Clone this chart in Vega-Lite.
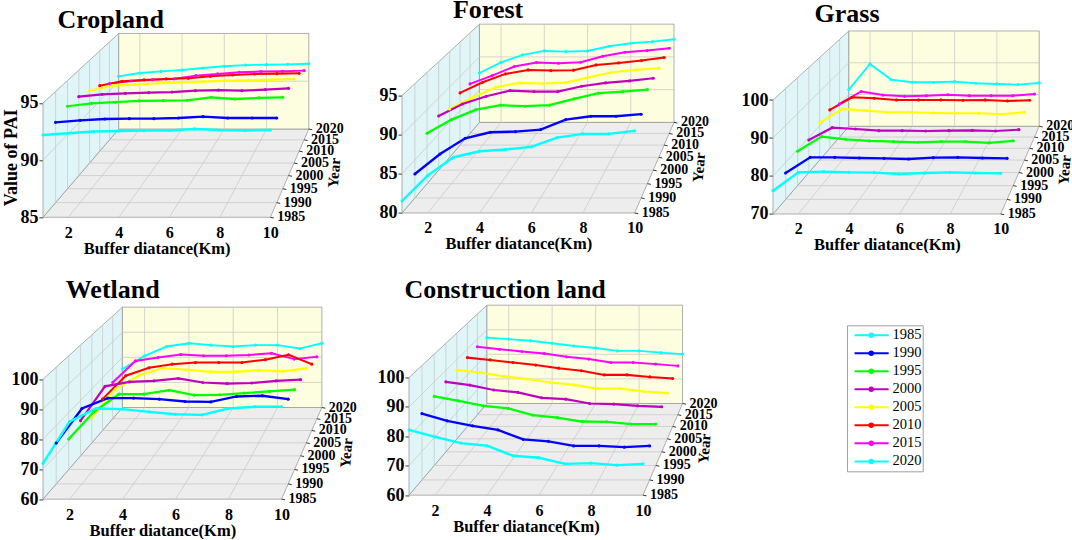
{
  "$schema": "https://vega.github.io/schema/vega-lite/v6.json",
  "background": "white",
  "padding": {"left": 2, "top": -3.7, "right": 0, "bottom": 0},
  "autosize": {"type": "pad"},
  "config": {
    "view": {"stroke": null},
    "font": "Liberation Serif",
    "axis": {"labelFont": "Liberation Serif", "labelFontWeight": "bold", "labelColor": "black", "titleFont": "Liberation Serif", "titleFontWeight": "bold", "titleColor": "black", "grid": false, "domain": false, "ticks": false},
    "axisX": {"labelFontSize": 16, "titleFontSize": 16.5, "labelPadding": 7, "titlePadding": 0},
    "axisY": {"labelFontSize": 18, "ticks": true, "tickSize": 4, "tickColor": "#333333", "labelPadding": 1},
    "title": {"font": "Liberation Serif", "fontSize": 26, "fontWeight": "bold", "anchor": "start", "frame": "group", "offset": 0, "baseline": "alphabetic", "color": "black"}
  },
  "datasets": {
    "years": [{"year": 1985}, {"year": 1990}, {"year": 1995}, {"year": 2000}, {"year": 2005}, {"year": 2010}, {"year": 2015}, {"year": 2020}],
    "box": [
      {"part": "floor", "k": 0, "dist": 1, "year": 1985, "lv": 0}, {"part": "floor", "k": 1, "dist": 10, "year": 1985, "lv": 0}, {"part": "floor", "k": 2, "dist": 10, "year": 2020, "lv": 0}, {"part": "floor", "k": 3, "dist": 1, "year": 2020, "lv": 0},
      {"part": "side", "k": 0, "dist": 1, "year": 1985, "lv": 0}, {"part": "side", "k": 1, "dist": 1, "year": 1985, "lv": 1}, {"part": "side", "k": 2, "dist": 1, "year": 2020, "lv": 1}, {"part": "side", "k": 3, "dist": 1, "year": 2020, "lv": 0},
      {"part": "back", "k": 0, "dist": 1, "year": 2020, "lv": 0}, {"part": "back", "k": 1, "dist": 10, "year": 2020, "lv": 0}, {"part": "back", "k": 2, "dist": 10, "year": 2020, "lv": 1}, {"part": "back", "k": 3, "dist": 1, "year": 2020, "lv": 1}
    ],
    "grid": [
      {"panel": "all", "dist": 2, "year": 1985, "lv": 0, "dist2": 2, "year2": 2020, "lv2": 0},
      {"panel": "all", "dist": 4, "year": 1985, "lv": 0, "dist2": 4, "year2": 2020, "lv2": 0},
      {"panel": "all", "dist": 6, "year": 1985, "lv": 0, "dist2": 6, "year2": 2020, "lv2": 0},
      {"panel": "all", "dist": 8, "year": 1985, "lv": 0, "dist2": 8, "year2": 2020, "lv2": 0},
      {"panel": "all", "dist": 1, "year": 1990, "lv": 0, "dist2": 10, "year2": 1990, "lv2": 0},
      {"panel": "all", "dist": 1, "year": 1995, "lv": 0, "dist2": 10, "year2": 1995, "lv2": 0},
      {"panel": "all", "dist": 1, "year": 2000, "lv": 0, "dist2": 10, "year2": 2000, "lv2": 0},
      {"panel": "all", "dist": 1, "year": 2005, "lv": 0, "dist2": 10, "year2": 2005, "lv2": 0},
      {"panel": "all", "dist": 1, "year": 2010, "lv": 0, "dist2": 10, "year2": 2010, "lv2": 0},
      {"panel": "all", "dist": 1, "year": 2015, "lv": 0, "dist2": 10, "year2": 2015, "lv2": 0},
      {"panel": "all", "dist": 1, "year": 1990, "lv": 0, "dist2": 1, "year2": 1990, "lv2": 1},
      {"panel": "all", "dist": 1, "year": 1995, "lv": 0, "dist2": 1, "year2": 1995, "lv2": 1},
      {"panel": "all", "dist": 1, "year": 2000, "lv": 0, "dist2": 1, "year2": 2000, "lv2": 1},
      {"panel": "all", "dist": 1, "year": 2005, "lv": 0, "dist2": 1, "year2": 2005, "lv2": 1},
      {"panel": "all", "dist": 1, "year": 2010, "lv": 0, "dist2": 1, "year2": 2010, "lv2": 1},
      {"panel": "all", "dist": 1, "year": 2015, "lv": 0, "dist2": 1, "year2": 2015, "lv2": 1},
      {"panel": "all", "dist": 2, "year": 2020, "lv": 0, "dist2": 2, "year2": 2020, "lv2": 1},
      {"panel": "all", "dist": 4, "year": 2020, "lv": 0, "dist2": 4, "year2": 2020, "lv2": 1},
      {"panel": "all", "dist": 6, "year": 2020, "lv": 0, "dist2": 6, "year2": 2020, "lv2": 1},
      {"panel": "all", "dist": 8, "year": 2020, "lv": 0, "dist2": 8, "year2": 2020, "lv2": 1},
      {"panel": "Cropland", "dist": 1, "year": 1985, "lv": 0.5, "dist2": 1, "year2": 2020, "lv2": 0.5},
      {"panel": "Cropland", "dist": 1, "year": 2020, "lv": 0.5, "dist2": 10, "year2": 2020, "lv2": 0.5},
      {"panel": "Forest", "dist": 1, "year": 1985, "lv": 0.3333, "dist2": 1, "year2": 2020, "lv2": 0.3333},
      {"panel": "Forest", "dist": 1, "year": 2020, "lv": 0.3333, "dist2": 10, "year2": 2020, "lv2": 0.3333},
      {"panel": "Forest", "dist": 1, "year": 1985, "lv": 0.6667, "dist2": 1, "year2": 2020, "lv2": 0.6667},
      {"panel": "Forest", "dist": 1, "year": 2020, "lv": 0.6667, "dist2": 10, "year2": 2020, "lv2": 0.6667},
      {"panel": "Grass", "dist": 1, "year": 1985, "lv": 0.3333, "dist2": 1, "year2": 2020, "lv2": 0.3333},
      {"panel": "Grass", "dist": 1, "year": 2020, "lv": 0.3333, "dist2": 10, "year2": 2020, "lv2": 0.3333},
      {"panel": "Grass", "dist": 1, "year": 1985, "lv": 0.6667, "dist2": 1, "year2": 2020, "lv2": 0.6667},
      {"panel": "Grass", "dist": 1, "year": 2020, "lv": 0.6667, "dist2": 10, "year2": 2020, "lv2": 0.6667},
      {"panel": "Wetland", "dist": 1, "year": 1985, "lv": 0.25, "dist2": 1, "year2": 2020, "lv2": 0.25},
      {"panel": "Wetland", "dist": 1, "year": 2020, "lv": 0.25, "dist2": 10, "year2": 2020, "lv2": 0.25},
      {"panel": "Wetland", "dist": 1, "year": 1985, "lv": 0.5, "dist2": 1, "year2": 2020, "lv2": 0.5},
      {"panel": "Wetland", "dist": 1, "year": 2020, "lv": 0.5, "dist2": 10, "year2": 2020, "lv2": 0.5},
      {"panel": "Wetland", "dist": 1, "year": 1985, "lv": 0.75, "dist2": 1, "year2": 2020, "lv2": 0.75},
      {"panel": "Wetland", "dist": 1, "year": 2020, "lv": 0.75, "dist2": 10, "year2": 2020, "lv2": 0.75},
      {"panel": "Construction land", "dist": 1, "year": 1985, "lv": 0.25, "dist2": 1, "year2": 2020, "lv2": 0.25},
      {"panel": "Construction land", "dist": 1, "year": 2020, "lv": 0.25, "dist2": 10, "year2": 2020, "lv2": 0.25},
      {"panel": "Construction land", "dist": 1, "year": 1985, "lv": 0.5, "dist2": 1, "year2": 2020, "lv2": 0.5},
      {"panel": "Construction land", "dist": 1, "year": 2020, "lv": 0.5, "dist2": 10, "year2": 2020, "lv2": 0.5},
      {"panel": "Construction land", "dist": 1, "year": 1985, "lv": 0.75, "dist2": 1, "year2": 2020, "lv2": 0.75},
      {"panel": "Construction land", "dist": 1, "year": 2020, "lv": 0.75, "dist2": 10, "year2": 2020, "lv2": 0.75}
    ],
    "pai": [
      {"panel":"Cropland","year":2020,"dist":1,"pai":90.51},{"panel":"Cropland","year":2020,"dist":2,"pai":90.86},{"panel":"Cropland","year":2020,"dist":3,"pai":91.03},{"panel":"Cropland","year":2020,"dist":4,"pai":91.17},{"panel":"Cropland","year":2020,"dist":5,"pai":91.38},{"panel":"Cropland","year":2020,"dist":6,"pai":91.56},{"panel":"Cropland","year":2020,"dist":7,"pai":91.69},{"panel":"Cropland","year":2020,"dist":8,"pai":91.73},{"panel":"Cropland","year":2020,"dist":9,"pai":91.76},{"panel":"Cropland","year":2020,"dist":10,"pai":91.83},
      {"panel":"Cropland","year":2015,"dist":1,"pai":90.74},{"panel":"Cropland","year":2015,"dist":2,"pai":91.01},{"panel":"Cropland","year":2015,"dist":3,"pai":91.15},{"panel":"Cropland","year":2015,"dist":4,"pai":91.23},{"panel":"Cropland","year":2015,"dist":5,"pai":91.56},{"panel":"Cropland","year":2015,"dist":6,"pai":91.73},{"panel":"Cropland","year":2015,"dist":7,"pai":91.9},{"panel":"Cropland","year":2015,"dist":8,"pai":91.97},{"panel":"Cropland","year":2015,"dist":9,"pai":92.0},{"panel":"Cropland","year":2015,"dist":10,"pai":92.07},
      {"panel":"Cropland","year":2010,"dist":1,"pai":91.53},{"panel":"Cropland","year":2010,"dist":2,"pai":91.96},{"panel":"Cropland","year":2010,"dist":3,"pai":92.1},{"panel":"Cropland","year":2010,"dist":4,"pai":92.2},{"panel":"Cropland","year":2010,"dist":5,"pai":92.26},{"panel":"Cropland","year":2010,"dist":6,"pai":92.46},{"panel":"Cropland","year":2010,"dist":7,"pai":92.59},{"panel":"Cropland","year":2010,"dist":8,"pai":92.69},{"panel":"Cropland","year":2010,"dist":9,"pai":92.73},{"panel":"Cropland","year":2010,"dist":10,"pai":92.76},
      {"panel":"Cropland","year":2005,"dist":1,"pai":92.04},{"panel":"Cropland","year":2005,"dist":2,"pai":92.53},{"panel":"Cropland","year":2005,"dist":3,"pai":92.63},{"panel":"Cropland","year":2005,"dist":4,"pai":92.76},{"panel":"Cropland","year":2005,"dist":5,"pai":92.82},{"panel":"Cropland","year":2005,"dist":6,"pai":92.92},{"panel":"Cropland","year":2005,"dist":7,"pai":93.02},{"panel":"Cropland","year":2005,"dist":8,"pai":93.05},{"panel":"Cropland","year":2005,"dist":9,"pai":93.11},{"panel":"Cropland","year":2005,"dist":10,"pai":93.18},
      {"panel":"Cropland","year":2000,"dist":1,"pai":92.48},{"panel":"Cropland","year":2000,"dist":2,"pai":92.7},{"panel":"Cropland","year":2000,"dist":3,"pai":92.8},{"panel":"Cropland","year":2000,"dist":4,"pai":92.86},{"panel":"Cropland","year":2000,"dist":5,"pai":92.92},{"panel":"Cropland","year":2000,"dist":6,"pai":93.05},{"panel":"Cropland","year":2000,"dist":7,"pai":93.11},{"panel":"Cropland","year":2000,"dist":8,"pai":93.05},{"panel":"Cropland","year":2000,"dist":9,"pai":93.15},{"panel":"Cropland","year":2000,"dist":10,"pai":93.27},
      {"panel":"Cropland","year":1995,"dist":1,"pai":92.62},{"panel":"Cropland","year":1995,"dist":2,"pai":92.89},{"panel":"Cropland","year":1995,"dist":3,"pai":92.99},{"panel":"Cropland","year":1995,"dist":4,"pai":93.11},{"panel":"Cropland","year":1995,"dist":5,"pai":93.14},{"panel":"Cropland","year":1995,"dist":6,"pai":93.17},{"panel":"Cropland","year":1995,"dist":7,"pai":93.45},{"panel":"Cropland","year":1995,"dist":8,"pai":93.29},{"panel":"Cropland","year":1995,"dist":9,"pai":93.39},{"panel":"Cropland","year":1995,"dist":10,"pai":93.45},
      {"panel":"Cropland","year":1990,"dist":1,"pai":92.22},{"panel":"Cropland","year":1990,"dist":2,"pai":92.4},{"panel":"Cropland","year":1990,"dist":3,"pai":92.52},{"panel":"Cropland","year":1990,"dist":4,"pai":92.55},{"panel":"Cropland","year":1990,"dist":5,"pai":92.55},{"panel":"Cropland","year":1990,"dist":6,"pai":92.61},{"panel":"Cropland","year":1990,"dist":7,"pai":92.73},{"panel":"Cropland","year":1990,"dist":8,"pai":92.61},{"panel":"Cropland","year":1990,"dist":9,"pai":92.61},{"panel":"Cropland","year":1990,"dist":10,"pai":92.61},
      {"panel":"Cropland","year":1985,"dist":1,"pai":92.2},{"panel":"Cropland","year":1985,"dist":2,"pai":92.35},{"panel":"Cropland","year":1985,"dist":3,"pai":92.5},{"panel":"Cropland","year":1985,"dist":4,"pai":92.55},{"panel":"Cropland","year":1985,"dist":5,"pai":92.58},{"panel":"Cropland","year":1985,"dist":6,"pai":92.6},{"panel":"Cropland","year":1985,"dist":7,"pai":92.73},{"panel":"Cropland","year":1985,"dist":8,"pai":92.64},{"panel":"Cropland","year":1985,"dist":9,"pai":92.6},{"panel":"Cropland","year":1985,"dist":10,"pai":92.64},

      {"panel":"Forest","year":2020,"dist":1,"pai":87.54},{"panel":"Forest","year":2020,"dist":2,"pai":89.17},{"panel":"Forest","year":2020,"dist":3,"pai":90.3},{"panel":"Forest","year":2020,"dist":4,"pai":90.91},{"panel":"Forest","year":2020,"dist":5,"pai":90.81},{"panel":"Forest","year":2020,"dist":6,"pai":90.91},{"panel":"Forest","year":2020,"dist":7,"pai":91.62},{"panel":"Forest","year":2020,"dist":8,"pai":92.08},{"panel":"Forest","year":2020,"dist":9,"pai":92.33},{"panel":"Forest","year":2020,"dist":10,"pai":92.69},
      {"panel":"Forest","year":2015,"dist":1,"pai":87.39},{"panel":"Forest","year":2015,"dist":2,"pai":88.63},{"panel":"Forest","year":2015,"dist":3,"pai":89.98},{"panel":"Forest","year":2015,"dist":4,"pai":90.57},{"panel":"Forest","year":2015,"dist":5,"pai":90.47},{"panel":"Forest","year":2015,"dist":6,"pai":90.62},{"panel":"Forest","year":2015,"dist":7,"pai":91.52},{"panel":"Forest","year":2015,"dist":8,"pai":92.11},{"panel":"Forest","year":2015,"dist":9,"pai":92.36},{"panel":"Forest","year":2015,"dist":10,"pai":92.71},
      {"panel":"Forest","year":2010,"dist":1,"pai":87.59},{"panel":"Forest","year":2010,"dist":2,"pai":89.14},{"panel":"Forest","year":2010,"dist":3,"pai":90.36},{"panel":"Forest","year":2010,"dist":4,"pai":90.94},{"panel":"Forest","year":2010,"dist":5,"pai":90.85},{"panel":"Forest","year":2010,"dist":6,"pai":90.9},{"panel":"Forest","year":2010,"dist":7,"pai":91.67},{"panel":"Forest","year":2010,"dist":8,"pai":91.96},{"panel":"Forest","year":2010,"dist":9,"pai":92.3},{"panel":"Forest","year":2010,"dist":10,"pai":92.74},
      {"panel":"Forest","year":2005,"dist":1,"pai":86.87},{"panel":"Forest","year":2005,"dist":2,"pai":88.53},{"panel":"Forest","year":2005,"dist":3,"pai":89.95},{"panel":"Forest","year":2005,"dist":4,"pai":90.56},{"panel":"Forest","year":2005,"dist":5,"pai":90.47},{"panel":"Forest","year":2005,"dist":6,"pai":90.61},{"panel":"Forest","year":2005,"dist":7,"pai":91.37},{"panel":"Forest","year":2005,"dist":8,"pai":92.08},{"panel":"Forest","year":2005,"dist":9,"pai":92.41},{"panel":"Forest","year":2005,"dist":10,"pai":92.65},
      {"panel":"Forest","year":2000,"dist":1,"pai":87.5},{"panel":"Forest","year":2000,"dist":2,"pai":89.16},{"panel":"Forest","year":2000,"dist":3,"pai":90.22},{"panel":"Forest","year":2000,"dist":4,"pai":91.01},{"panel":"Forest","year":2000,"dist":5,"pai":90.87},{"panel":"Forest","year":2000,"dist":6,"pai":90.87},{"panel":"Forest","year":2000,"dist":7,"pai":91.61},{"panel":"Forest","year":2000,"dist":8,"pai":92.07},{"panel":"Forest","year":2000,"dist":9,"pai":92.35},{"panel":"Forest","year":2000,"dist":10,"pai":92.72},
      {"panel":"Forest","year":1995,"dist":1,"pai":86.8},{"panel":"Forest","year":1995,"dist":2,"pai":88.64},{"panel":"Forest","year":1995,"dist":3,"pai":89.99},{"panel":"Forest","year":1995,"dist":4,"pai":90.58},{"panel":"Forest","year":1995,"dist":5,"pai":90.44},{"panel":"Forest","year":1995,"dist":6,"pai":90.58},{"panel":"Forest","year":1995,"dist":7,"pai":91.43},{"panel":"Forest","year":1995,"dist":8,"pai":92.2},{"panel":"Forest","year":1995,"dist":9,"pai":92.42},{"panel":"Forest","year":1995,"dist":10,"pai":92.69},
      {"panel":"Forest","year":1990,"dist":1,"pai":83.14},{"panel":"Forest","year":1990,"dist":2,"pai":85.77},{"panel":"Forest","year":1990,"dist":3,"pai":87.83},{"panel":"Forest","year":1990,"dist":4,"pai":88.62},{"panel":"Forest","year":1990,"dist":5,"pai":88.71},{"panel":"Forest","year":1990,"dist":6,"pai":88.97},{"panel":"Forest","year":1990,"dist":7,"pai":90.28},{"panel":"Forest","year":1990,"dist":8,"pai":90.72},{"panel":"Forest","year":1990,"dist":9,"pai":90.72},{"panel":"Forest","year":1990,"dist":10,"pai":90.99},
      {"panel":"Forest","year":1985,"dist":1,"pai":81.53},{"panel":"Forest","year":1985,"dist":2,"pai":84.81},{"panel":"Forest","year":1985,"dist":3,"pai":87.12},{"panel":"Forest","year":1985,"dist":4,"pai":87.88},{"panel":"Forest","year":1985,"dist":5,"pai":88.1},{"panel":"Forest","year":1985,"dist":6,"pai":88.44},{"panel":"Forest","year":1985,"dist":7,"pai":89.63},{"panel":"Forest","year":1985,"dist":8,"pai":90.1},{"panel":"Forest","year":1985,"dist":9,"pai":90.1},{"panel":"Forest","year":1985,"dist":10,"pai":90.48},

      {"panel":"Grass","year":2020,"dist":1,"pai":81.54},{"panel":"Grass","year":2020,"dist":2,"pai":89.62},{"panel":"Grass","year":2020,"dist":3,"pai":84.69},{"panel":"Grass","year":2020,"dist":4,"pai":83.85},{"panel":"Grass","year":2020,"dist":5,"pai":83.85},{"panel":"Grass","year":2020,"dist":6,"pai":84.06},{"panel":"Grass","year":2020,"dist":7,"pai":83.54},{"panel":"Grass","year":2020,"dist":8,"pai":83.33},{"panel":"Grass","year":2020,"dist":9,"pai":83.12},{"panel":"Grass","year":2020,"dist":10,"pai":83.64},
      {"panel":"Grass","year":2015,"dist":1,"pai":80.2},{"panel":"Grass","year":2015,"dist":2,"pai":84.0},{"panel":"Grass","year":2015,"dist":3,"pai":82.9},{"panel":"Grass","year":2015,"dist":4,"pai":82.5},{"panel":"Grass","year":2015,"dist":5,"pai":82.7},{"panel":"Grass","year":2015,"dist":6,"pai":83.0},{"panel":"Grass","year":2015,"dist":7,"pai":82.7},{"panel":"Grass","year":2015,"dist":8,"pai":82.7},{"panel":"Grass","year":2015,"dist":9,"pai":82.7},{"panel":"Grass","year":2015,"dist":10,"pai":83.2},
      {"panel":"Grass","year":2010,"dist":1,"pai":81.5},{"panel":"Grass","year":2010,"dist":2,"pai":85.3},{"panel":"Grass","year":2010,"dist":3,"pai":85.0},{"panel":"Grass","year":2010,"dist":4,"pai":84.5},{"panel":"Grass","year":2010,"dist":5,"pai":84.5},{"panel":"Grass","year":2010,"dist":6,"pai":84.5},{"panel":"Grass","year":2010,"dist":7,"pai":84.4},{"panel":"Grass","year":2010,"dist":8,"pai":84.5},{"panel":"Grass","year":2010,"dist":9,"pai":84.2},{"panel":"Grass","year":2010,"dist":10,"pai":84.4},
      {"panel":"Grass","year":2005,"dist":1,"pai":80.88},{"panel":"Grass","year":2005,"dist":2,"pai":84.98},{"panel":"Grass","year":2005,"dist":3,"pai":84.49},{"panel":"Grass","year":2005,"dist":4,"pai":84.0},{"panel":"Grass","year":2005,"dist":5,"pai":84.0},{"panel":"Grass","year":2005,"dist":6,"pai":83.8},{"panel":"Grass","year":2005,"dist":7,"pai":83.71},{"panel":"Grass","year":2005,"dist":8,"pai":83.71},{"panel":"Grass","year":2005,"dist":9,"pai":83.41},{"panel":"Grass","year":2005,"dist":10,"pai":84.0},
      {"panel":"Grass","year":2000,"dist":1,"pai":79.28},{"panel":"Grass","year":2000,"dist":2,"pai":82.79},{"panel":"Grass","year":2000,"dist":3,"pai":82.41},{"panel":"Grass","year":2000,"dist":4,"pai":81.94},{"panel":"Grass","year":2000,"dist":5,"pai":81.94},{"panel":"Grass","year":2000,"dist":6,"pai":81.84},{"panel":"Grass","year":2000,"dist":7,"pai":81.94},{"panel":"Grass","year":2000,"dist":8,"pai":82.03},{"panel":"Grass","year":2000,"dist":9,"pai":81.84},{"panel":"Grass","year":2000,"dist":10,"pai":82.22},
      {"panel":"Grass","year":1995,"dist":1,"pai":79.55},{"panel":"Grass","year":1995,"dist":2,"pai":83.62},{"panel":"Grass","year":1995,"dist":3,"pai":82.88},{"panel":"Grass","year":1995,"dist":4,"pai":82.42},{"panel":"Grass","year":1995,"dist":5,"pai":82.23},{"panel":"Grass","year":1995,"dist":6,"pai":82.05},{"panel":"Grass","year":1995,"dist":7,"pai":82.23},{"panel":"Grass","year":1995,"dist":8,"pai":82.23},{"panel":"Grass","year":1995,"dist":9,"pai":81.86},{"panel":"Grass","year":1995,"dist":10,"pai":82.42},
      {"panel":"Grass","year":1990,"dist":1,"pai":77.15},{"panel":"Grass","year":1990,"dist":2,"pai":81.39},{"panel":"Grass","year":1990,"dist":3,"pai":81.39},{"panel":"Grass","year":1990,"dist":4,"pai":81.21},{"panel":"Grass","year":1990,"dist":5,"pai":81.12},{"panel":"Grass","year":1990,"dist":6,"pai":80.94},{"panel":"Grass","year":1990,"dist":7,"pai":81.3},{"panel":"Grass","year":1990,"dist":8,"pai":81.39},{"panel":"Grass","year":1990,"dist":9,"pai":81.21},{"panel":"Grass","year":1990,"dist":10,"pai":81.12},
      {"panel":"Grass","year":1985,"dist":1,"pai":76.14},{"panel":"Grass","year":1985,"dist":2,"pai":80.96},{"panel":"Grass","year":1985,"dist":3,"pai":81.14},{"panel":"Grass","year":1985,"dist":4,"pai":80.96},{"panel":"Grass","year":1985,"dist":5,"pai":80.88},{"panel":"Grass","year":1985,"dist":6,"pai":80.53},{"panel":"Grass","year":1985,"dist":7,"pai":80.79},{"panel":"Grass","year":1985,"dist":8,"pai":80.96},{"panel":"Grass","year":1985,"dist":9,"pai":80.79},{"panel":"Grass","year":1985,"dist":10,"pai":80.7},

      {"panel":"Wetland","year":2020,"dist":1,"pai":75.3},{"panel":"Wetland","year":2020,"dist":2,"pai":80.6},{"panel":"Wetland","year":2020,"dist":3,"pai":84.3},{"panel":"Wetland","year":2020,"dist":4,"pai":85.6},{"panel":"Wetland","year":2020,"dist":5,"pai":84.85},{"panel":"Wetland","year":2020,"dist":6,"pai":84.3},{"panel":"Wetland","year":2020,"dist":7,"pai":84.85},{"panel":"Wetland","year":2020,"dist":8,"pai":84.85},{"panel":"Wetland","year":2020,"dist":9,"pai":83.5},{"panel":"Wetland","year":2020,"dist":10,"pai":85.6},
      {"panel":"Wetland","year":2015,"dist":1,"pai":74.1},{"panel":"Wetland","year":2015,"dist":2,"pai":82.5},{"panel":"Wetland","year":2015,"dist":3,"pai":83.8},{"panel":"Wetland","year":2015,"dist":4,"pai":85.0},{"panel":"Wetland","year":2015,"dist":5,"pai":84.5},{"panel":"Wetland","year":2015,"dist":6,"pai":84.5},{"panel":"Wetland","year":2015,"dist":7,"pai":84.8},{"panel":"Wetland","year":2015,"dist":8,"pai":85.5},{"panel":"Wetland","year":2015,"dist":9,"pai":83.2},{"panel":"Wetland","year":2015,"dist":10,"pai":84.1},
      {"panel":"Wetland","year":2010,"dist":1,"pai":71.9},{"panel":"Wetland","year":2010,"dist":2,"pai":80.8},{"panel":"Wetland","year":2010,"dist":3,"pai":83.8},{"panel":"Wetland","year":2010,"dist":4,"pai":85.2},{"panel":"Wetland","year":2010,"dist":5,"pai":85.8},{"panel":"Wetland","year":2010,"dist":6,"pai":85.8},{"panel":"Wetland","year":2010,"dist":7,"pai":85.8},{"panel":"Wetland","year":2010,"dist":8,"pai":86.9},{"panel":"Wetland","year":2010,"dist":9,"pai":88.75},{"panel":"Wetland","year":2010,"dist":10,"pai":85.2},
      {"panel":"Wetland","year":2005,"dist":1,"pai":69.4},{"panel":"Wetland","year":2005,"dist":2,"pai":79.9},{"panel":"Wetland","year":2005,"dist":3,"pai":85.1},{"panel":"Wetland","year":2005,"dist":4,"pai":87.7},{"panel":"Wetland","year":2005,"dist":5,"pai":87.1},{"panel":"Wetland","year":2005,"dist":6,"pai":86.3},{"panel":"Wetland","year":2005,"dist":7,"pai":86.3},{"panel":"Wetland","year":2005,"dist":8,"pai":86.9},{"panel":"Wetland","year":2005,"dist":9,"pai":86.5},{"panel":"Wetland","year":2005,"dist":10,"pai":87.6},
      {"panel":"Wetland","year":2000,"dist":1,"pai":72.7},{"panel":"Wetland","year":2000,"dist":2,"pai":85.1},{"panel":"Wetland","year":2000,"dist":3,"pai":86.7},{"panel":"Wetland","year":2000,"dist":4,"pai":87.1},{"panel":"Wetland","year":2000,"dist":5,"pai":87.95},{"panel":"Wetland","year":2000,"dist":6,"pai":86.5},{"panel":"Wetland","year":2000,"dist":7,"pai":86.1},{"panel":"Wetland","year":2000,"dist":8,"pai":86.3},{"panel":"Wetland","year":2000,"dist":9,"pai":87.1},{"panel":"Wetland","year":2000,"dist":10,"pai":87.5},
      {"panel":"Wetland","year":1995,"dist":1,"pai":70.7},{"panel":"Wetland","year":1995,"dist":2,"pai":80.3},{"panel":"Wetland","year":1995,"dist":3,"pai":86.5},{"panel":"Wetland","year":1995,"dist":4,"pai":86.5},{"panel":"Wetland","year":1995,"dist":5,"pai":87.9},{"panel":"Wetland","year":1995,"dist":6,"pai":86.2},{"panel":"Wetland","year":1995,"dist":7,"pai":86.3},{"panel":"Wetland","year":1995,"dist":8,"pai":86.9},{"panel":"Wetland","year":1995,"dist":9,"pai":87.5},{"panel":"Wetland","year":1995,"dist":10,"pai":88.1},
      {"panel":"Wetland","year":1990,"dist":1,"pai":74.0},{"panel":"Wetland","year":1990,"dist":2,"pai":85.85},{"panel":"Wetland","year":1990,"dist":3,"pai":89.4},{"panel":"Wetland","year":1990,"dist":4,"pai":89.4},{"panel":"Wetland","year":1990,"dist":5,"pai":89.05},{"panel":"Wetland","year":1990,"dist":6,"pai":88.25},{"panel":"Wetland","year":1990,"dist":7,"pai":88.1},{"panel":"Wetland","year":1990,"dist":8,"pai":89.96},{"panel":"Wetland","year":1990,"dist":9,"pai":90.2},{"panel":"Wetland","year":1990,"dist":10,"pai":89.05},
      {"panel":"Wetland","year":1985,"dist":1,"pai":71.9},{"panel":"Wetland","year":1985,"dist":2,"pai":85.8},{"panel":"Wetland","year":1985,"dist":3,"pai":90.2},{"panel":"Wetland","year":1985,"dist":4,"pai":90.0},{"panel":"Wetland","year":1985,"dist":5,"pai":89.1},{"panel":"Wetland","year":1985,"dist":6,"pai":88.3},{"panel":"Wetland","year":1985,"dist":7,"pai":88.1},{"panel":"Wetland","year":1985,"dist":8,"pai":90.2},{"panel":"Wetland","year":1985,"dist":9,"pai":90.8},{"panel":"Wetland","year":1985,"dist":10,"pai":90.8},

      {"panel":"Construction land","year":2020,"dist":1,"pai":86.8},{"panel":"Construction land","year":2020,"dist":2,"pai":86.2},{"panel":"Construction land","year":2020,"dist":3,"pai":85.5},{"panel":"Construction land","year":2020,"dist":4,"pai":84.5},{"panel":"Construction land","year":2020,"dist":5,"pai":83.4},{"panel":"Construction land","year":2020,"dist":6,"pai":82.6},{"panel":"Construction land","year":2020,"dist":7,"pai":81.4},{"panel":"Construction land","year":2020,"dist":8,"pai":81.4},{"panel":"Construction land","year":2020,"dist":9,"pai":80.7},{"panel":"Construction land","year":2020,"dist":10,"pai":80.1},
      {"panel":"Construction land","year":2015,"dist":1,"pai":87.0},{"panel":"Construction land","year":2015,"dist":2,"pai":86.0},{"panel":"Construction land","year":2015,"dist":3,"pai":85.1},{"panel":"Construction land","year":2015,"dist":4,"pai":84.3},{"panel":"Construction land","year":2015,"dist":5,"pai":83.0},{"panel":"Construction land","year":2015,"dist":6,"pai":82.1},{"panel":"Construction land","year":2015,"dist":7,"pai":80.75},{"panel":"Construction land","year":2015,"dist":8,"pai":80.75},{"panel":"Construction land","year":2015,"dist":9,"pai":80.1},{"panel":"Construction land","year":2015,"dist":10,"pai":79.4},
      {"panel":"Construction land","year":2010,"dist":1,"pai":86.7},{"panel":"Construction land","year":2010,"dist":2,"pai":85.8},{"panel":"Construction land","year":2010,"dist":3,"pai":84.8},{"panel":"Construction land","year":2010,"dist":4,"pai":83.8},{"panel":"Construction land","year":2010,"dist":5,"pai":82.6},{"panel":"Construction land","year":2010,"dist":6,"pai":81.6},{"panel":"Construction land","year":2010,"dist":7,"pai":80.0},{"panel":"Construction land","year":2010,"dist":8,"pai":80.0},{"panel":"Construction land","year":2010,"dist":9,"pai":79.2},{"panel":"Construction land","year":2010,"dist":10,"pai":78.6},
      {"panel":"Construction land","year":2005,"dist":1,"pai":86.0},{"panel":"Construction land","year":2005,"dist":2,"pai":85.1},{"panel":"Construction land","year":2005,"dist":3,"pai":83.6},{"panel":"Construction land","year":2005,"dist":4,"pai":82.6},{"panel":"Construction land","year":2005,"dist":5,"pai":81.3},{"panel":"Construction land","year":2005,"dist":6,"pai":80.4},{"panel":"Construction land","year":2005,"dist":7,"pai":79.0},{"panel":"Construction land","year":2005,"dist":8,"pai":79.0},{"panel":"Construction land","year":2005,"dist":9,"pai":77.9},{"panel":"Construction land","year":2005,"dist":10,"pai":77.3},
      {"panel":"Construction land","year":2000,"dist":1,"pai":85.8},{"panel":"Construction land","year":2000,"dist":2,"pai":84.6},{"panel":"Construction land","year":2000,"dist":3,"pai":82.8},{"panel":"Construction land","year":2000,"dist":4,"pai":81.9},{"panel":"Construction land","year":2000,"dist":5,"pai":79.9},{"panel":"Construction land","year":2000,"dist":6,"pai":79.4},{"panel":"Construction land","year":2000,"dist":7,"pai":77.8},{"panel":"Construction land","year":2000,"dist":8,"pai":77.6},{"panel":"Construction land","year":2000,"dist":9,"pai":76.95},{"panel":"Construction land","year":2000,"dist":10,"pai":76.6},
      {"panel":"Construction land","year":1995,"dist":1,"pai":84.8},{"panel":"Construction land","year":1995,"dist":2,"pai":83.2},{"panel":"Construction land","year":1995,"dist":3,"pai":81.4},{"panel":"Construction land","year":1995,"dist":4,"pai":80.5},{"panel":"Construction land","year":1995,"dist":5,"pai":78.1},{"panel":"Construction land","year":1995,"dist":6,"pai":77.2},{"panel":"Construction land","year":1995,"dist":7,"pai":75.8},{"panel":"Construction land","year":1995,"dist":8,"pai":75.7},{"panel":"Construction land","year":1995,"dist":9,"pai":74.9},{"panel":"Construction land","year":1995,"dist":10,"pai":74.9},
      {"panel":"Construction land","year":1990,"dist":1,"pai":83.2},{"panel":"Construction land","year":1990,"dist":2,"pai":80.65},{"panel":"Construction land","year":1990,"dist":3,"pai":78.9},{"panel":"Construction land","year":1990,"dist":4,"pai":77.5},{"panel":"Construction land","year":1990,"dist":5,"pai":74.2},{"panel":"Construction land","year":1990,"dist":6,"pai":73.5},{"panel":"Construction land","year":1990,"dist":7,"pai":71.9},{"panel":"Construction land","year":1990,"dist":8,"pai":71.9},{"panel":"Construction land","year":1990,"dist":9,"pai":71.45},{"panel":"Construction land","year":1990,"dist":10,"pai":71.9},
      {"panel":"Construction land","year":1985,"dist":1,"pai":82.2},{"panel":"Construction land","year":1985,"dist":2,"pai":79.8},{"panel":"Construction land","year":1985,"dist":3,"pai":77.7},{"panel":"Construction land","year":1985,"dist":4,"pai":76.8},{"panel":"Construction land","year":1985,"dist":5,"pai":73.4},{"panel":"Construction land","year":1985,"dist":6,"pai":72.7},{"panel":"Construction land","year":1985,"dist":7,"pai":70.65},{"panel":"Construction land","year":1985,"dist":8,"pai":70.9},{"panel":"Construction land","year":1985,"dist":9,"pai":70.2},{"panel":"Construction land","year":1985,"dist":10,"pai":70.65}
    ]
  },
  "spacing": 275,
  "bounds": "flush",
  "resolve": {"scale": {"x": "independent", "y": "independent"}},
  "vconcat": [
    {
      "spacing": 40,
      "bounds": "flush",
      "center": true,
      "resolve": {"scale": {"x": "independent", "y": "independent"}},
      "hconcat": [
        {
          "width": 318.5, "height": 195,
          "title": {"text": "Cropland", "dx": 14.5, "dy": 15},
          "encoding": {
            "x": {"field": "u", "type": "quantitative", "scale": {"domain": [1, 13.609], "nice": false, "zero": false}, "axis": {"values": [2, 4, 6, 8, 10], "title": "Buffer diatance(Km)", "titleX": 113.7}},
            "y": {"field": "v", "type": "quantitative", "scale": {"domain": [85, 102.06], "nice": false, "zero": false}, "axis": {"values": [85, 90, 95], "title": "Value of PAI", "titleFontSize": 18, "titleX": -31.5, "titleY": 135, "titleBaseline": "middle"}}
          },
          "layer": [
            {"data": {"name": "box"}, "transform": [{"filter": "datum.part=='floor'"}, {"calculate": "85+datum.lv*10", "as": "pai"}, {"calculate": "1/(1+0.0056*(datum.year-1985))", "as": "s"}, {"calculate": "1+(1-datum.s)*18.29+(datum.dist-1)*datum.s", "as": "u"}, {"calculate": "85+(1-datum.s)*47.13+(datum.pai-85)*datum.s", "as": "v"}],
             "mark": {"type": "line", "interpolate": "linear-closed", "fill": "#ededed", "stroke": "#9a9a9a", "strokeWidth": 0.8}, "encoding": {"order": {"field": "k", "type": "quantitative"}}},
            {"data": {"name": "box"}, "transform": [{"filter": "datum.part=='side'"}, {"calculate": "85+datum.lv*10", "as": "pai"}, {"calculate": "1/(1+0.0056*(datum.year-1985))", "as": "s"}, {"calculate": "1+(1-datum.s)*18.29+(datum.dist-1)*datum.s", "as": "u"}, {"calculate": "85+(1-datum.s)*47.13+(datum.pai-85)*datum.s", "as": "v"}],
             "mark": {"type": "line", "interpolate": "linear-closed", "fill": "#dff5f7", "stroke": "#9a9a9a", "strokeWidth": 0.8}, "encoding": {"order": {"field": "k", "type": "quantitative"}}},
            {"data": {"name": "box"}, "transform": [{"filter": "datum.part=='back'"}, {"calculate": "85+datum.lv*10", "as": "pai"}, {"calculate": "1/(1+0.0056*(datum.year-1985))", "as": "s"}, {"calculate": "1+(1-datum.s)*18.29+(datum.dist-1)*datum.s", "as": "u"}, {"calculate": "85+(1-datum.s)*47.13+(datum.pai-85)*datum.s", "as": "v"}],
             "mark": {"type": "line", "interpolate": "linear-closed", "fill": "#fdfddf", "stroke": "#9a9a9a", "strokeWidth": 0.8}, "encoding": {"order": {"field": "k", "type": "quantitative"}}},
            {"data": {"name": "grid"}, "transform": [{"filter": "datum.panel=='all'||datum.panel=='Cropland'"}, {"calculate": "85+datum.lv*10", "as": "pai"}, {"calculate": "85+datum.lv2*10", "as": "pai2"}, {"calculate": "1/(1+0.0056*(datum.year-1985))", "as": "s"}, {"calculate": "1+(1-datum.s)*18.29+(datum.dist-1)*datum.s", "as": "u"}, {"calculate": "85+(1-datum.s)*47.13+(datum.pai-85)*datum.s", "as": "v"}, {"calculate": "1/(1+0.0056*(datum.year2-1985))", "as": "s2"}, {"calculate": "1+(1-datum.s2)*18.29+(datum.dist2-1)*datum.s2", "as": "u2"}, {"calculate": "85+(1-datum.s2)*47.13+(datum.pai2-85)*datum.s2", "as": "v2"}],
             "mark": {"type": "rule", "stroke": "#c6c6c6", "strokeWidth": 0.7}, "encoding": {"x2": {"field": "u2"}, "y2": {"field": "v2"}}},
            {"data": {"name": "pai"}, "transform": [{"filter": "datum.panel=='Cropland'"}, {"calculate": "1/(1+0.0056*(datum.year-1985))", "as": "s"}, {"calculate": "1+(1-datum.s)*18.29+(datum.dist-1)*datum.s", "as": "u"}, {"calculate": "85+(1-datum.s)*47.13+(datum.pai-85)*datum.s", "as": "v"}],
             "mark": {"type": "line"},
             "encoding": {
               "color": {"field": "year", "type": "ordinal", "scale": {"domain": [1985, 1990, 1995, 2000, 2005, 2010, 2015, 2020], "range": ["#00ffff", "#0000ff", "#00ff00", "#c000c0", "#ffff00", "#ff0000", "#ff00ff", "#00ffff"]}, "legend": null},
               "size": {"field": "year", "type": "ordinal", "scale": {"domain": [1985, 1990, 1995, 2000, 2005, 2010, 2015, 2020], "range": [2.4, 1.9, 2.1, 1.6, 1.5, 1.5, 1.3, 1.1]}, "legend": null}
             }},
            {"data": {"name": "pai"}, "transform": [{"filter": "datum.panel=='Cropland'"}, {"calculate": "1/(1+0.0056*(datum.year-1985))", "as": "s"}, {"calculate": "1+(1-datum.s)*18.29+(datum.dist-1)*datum.s", "as": "u"}, {"calculate": "85+(1-datum.s)*47.13+(datum.pai-85)*datum.s", "as": "v"}],
             "mark": {"type": "point", "filled": true, "size": 10, "opacity": 1},
             "encoding": {"color": {"field": "year", "type": "ordinal", "scale": {"domain": [1985, 1990, 1995, 2000, 2005, 2010, 2015, 2020], "range": ["#00ffff", "#0000ff", "#00ff00", "#c000c0", "#ffff00", "#ff0000", "#ff00ff", "#00ffff"]}, "legend": null}}},
            {"data": {"name": "years"}, "transform": [{"calculate": "10", "as": "dist"}, {"calculate": "85", "as": "pai"}, {"calculate": "1/(1+0.0056*(datum.year-1985))", "as": "s"}, {"calculate": "1+(1-datum.s)*18.29+(datum.dist-1)*datum.s", "as": "u"}, {"calculate": "85+(1-datum.s)*47.13+(datum.pai-85)*datum.s", "as": "v"}],
             "mark": {"type": "point", "shape": "M0,0L1,0.2", "size": 49, "filled": false, "stroke": "#333333", "strokeWidth": 1, "opacity": 1}, "encoding": {}},
            {"data": {"name": "years"}, "transform": [{"calculate": "10", "as": "dist"}, {"calculate": "85", "as": "pai"}, {"calculate": "1/(1+0.0056*(datum.year-1985))", "as": "s"}, {"calculate": "1+(1-datum.s)*18.29+(datum.dist-1)*datum.s", "as": "u"}, {"calculate": "85+(1-datum.s)*47.13+(datum.pai-85)*datum.s", "as": "v"}],
             "mark": {"type": "text", "align": "left", "baseline": "middle", "dx": 7, "fontSize": 14, "fontWeight": "bold", "font": "Liberation Serif", "color": "black"},
             "encoding": {"text": {"field": "year", "type": "nominal"}}},
            {"data": {"values": [{"label": "Year"}]}, "transform": [{"calculate": "10", "as": "dist"}, {"calculate": "2002.5", "as": "year"}, {"calculate": "85", "as": "pai"}, {"calculate": "1/(1+0.0056*(datum.year-1985))", "as": "s"}, {"calculate": "1+(1-datum.s)*18.29+(datum.dist-1)*datum.s", "as": "u"}, {"calculate": "85+(1-datum.s)*47.13+(datum.pai-85)*datum.s", "as": "v"}],
             "mark": {"type": "text", "angle": 275, "dy": 43, "align": "center", "baseline": "middle", "fontSize": 15, "fontWeight": "bold", "font": "Liberation Serif", "color": "black"},
             "encoding": {"text": {"field": "label", "type": "nominal"}}}
          ]
        },
        {
          "width": 331, "height": 186.4,
          "title": {"text": "Forest", "dx": 51, "dy": 4.6},
          "encoding": {
            "x": {"field": "u", "type": "quantitative", "scale": {"domain": [1, 13.805], "nice": false, "zero": false}, "axis": {"values": [2, 4, 6, 8, 10], "title": "Buffer diatance(Km)", "titleX": 116.3}},
            "y": {"field": "v", "type": "quantitative", "scale": {"domain": [80, 103.8], "nice": false, "zero": false}, "axis": {"values": [80, 85, 90, 95], "title": null}}
          },
          "layer": [
            {"data": {"name": "box"}, "transform": [{"filter": "datum.part=='floor'"}, {"calculate": "80+datum.lv*15", "as": "pai"}, {"calculate": "1/(1+0.0056*(datum.year-1985))", "as": "s"}, {"calculate": "1+(1-datum.s)*18.29+(datum.dist-1)*datum.s", "as": "u"}, {"calculate": "80+(1-datum.s)*70.61+(datum.pai-80)*datum.s", "as": "v"}],
             "mark": {"type": "line", "interpolate": "linear-closed", "fill": "#ededed", "stroke": "#9a9a9a", "strokeWidth": 0.8}, "encoding": {"order": {"field": "k", "type": "quantitative"}}},
            {"data": {"name": "box"}, "transform": [{"filter": "datum.part=='side'"}, {"calculate": "80+datum.lv*15", "as": "pai"}, {"calculate": "1/(1+0.0056*(datum.year-1985))", "as": "s"}, {"calculate": "1+(1-datum.s)*18.29+(datum.dist-1)*datum.s", "as": "u"}, {"calculate": "80+(1-datum.s)*70.61+(datum.pai-80)*datum.s", "as": "v"}],
             "mark": {"type": "line", "interpolate": "linear-closed", "fill": "#dff5f7", "stroke": "#9a9a9a", "strokeWidth": 0.8}, "encoding": {"order": {"field": "k", "type": "quantitative"}}},
            {"data": {"name": "box"}, "transform": [{"filter": "datum.part=='back'"}, {"calculate": "80+datum.lv*15", "as": "pai"}, {"calculate": "1/(1+0.0056*(datum.year-1985))", "as": "s"}, {"calculate": "1+(1-datum.s)*18.29+(datum.dist-1)*datum.s", "as": "u"}, {"calculate": "80+(1-datum.s)*70.61+(datum.pai-80)*datum.s", "as": "v"}],
             "mark": {"type": "line", "interpolate": "linear-closed", "fill": "#fdfddf", "stroke": "#9a9a9a", "strokeWidth": 0.8}, "encoding": {"order": {"field": "k", "type": "quantitative"}}},
            {"data": {"name": "grid"}, "transform": [{"filter": "datum.panel=='all'||datum.panel=='Forest'"}, {"calculate": "80+datum.lv*15", "as": "pai"}, {"calculate": "80+datum.lv2*15", "as": "pai2"}, {"calculate": "1/(1+0.0056*(datum.year-1985))", "as": "s"}, {"calculate": "1+(1-datum.s)*18.29+(datum.dist-1)*datum.s", "as": "u"}, {"calculate": "80+(1-datum.s)*70.61+(datum.pai-80)*datum.s", "as": "v"}, {"calculate": "1/(1+0.0056*(datum.year2-1985))", "as": "s2"}, {"calculate": "1+(1-datum.s2)*18.29+(datum.dist2-1)*datum.s2", "as": "u2"}, {"calculate": "80+(1-datum.s2)*70.61+(datum.pai2-80)*datum.s2", "as": "v2"}],
             "mark": {"type": "rule", "stroke": "#c6c6c6", "strokeWidth": 0.7}, "encoding": {"x2": {"field": "u2"}, "y2": {"field": "v2"}}},
            {"data": {"name": "pai"}, "transform": [{"filter": "datum.panel=='Forest'"}, {"calculate": "1/(1+0.0056*(datum.year-1985))", "as": "s"}, {"calculate": "1+(1-datum.s)*18.29+(datum.dist-1)*datum.s", "as": "u"}, {"calculate": "80+(1-datum.s)*70.61+(datum.pai-80)*datum.s", "as": "v"}],
             "mark": {"type": "line"},
             "encoding": {
               "color": {"field": "year", "type": "ordinal", "scale": {"domain": [1985, 1990, 1995, 2000, 2005, 2010, 2015, 2020], "range": ["#00ffff", "#0000ff", "#00ff00", "#c000c0", "#ffff00", "#ff0000", "#ff00ff", "#00ffff"]}, "legend": null},
               "size": {"field": "year", "type": "ordinal", "scale": {"domain": [1985, 1990, 1995, 2000, 2005, 2010, 2015, 2020], "range": [2.4, 1.9, 2.1, 1.6, 1.5, 1.5, 1.3, 1.1]}, "legend": null}
             }},
            {"data": {"name": "pai"}, "transform": [{"filter": "datum.panel=='Forest'"}, {"calculate": "1/(1+0.0056*(datum.year-1985))", "as": "s"}, {"calculate": "1+(1-datum.s)*18.29+(datum.dist-1)*datum.s", "as": "u"}, {"calculate": "80+(1-datum.s)*70.61+(datum.pai-80)*datum.s", "as": "v"}],
             "mark": {"type": "point", "filled": true, "size": 10, "opacity": 1},
             "encoding": {"color": {"field": "year", "type": "ordinal", "scale": {"domain": [1985, 1990, 1995, 2000, 2005, 2010, 2015, 2020], "range": ["#00ffff", "#0000ff", "#00ff00", "#c000c0", "#ffff00", "#ff0000", "#ff00ff", "#00ffff"]}, "legend": null}}},
            {"data": {"name": "years"}, "transform": [{"calculate": "10", "as": "dist"}, {"calculate": "80", "as": "pai"}, {"calculate": "1/(1+0.0056*(datum.year-1985))", "as": "s"}, {"calculate": "1+(1-datum.s)*18.29+(datum.dist-1)*datum.s", "as": "u"}, {"calculate": "80+(1-datum.s)*70.61+(datum.pai-80)*datum.s", "as": "v"}],
             "mark": {"type": "point", "shape": "M0,0L1,0.2", "size": 49, "filled": false, "stroke": "#333333", "strokeWidth": 1, "opacity": 1}, "encoding": {}},
            {"data": {"name": "years"}, "transform": [{"calculate": "10", "as": "dist"}, {"calculate": "80", "as": "pai"}, {"calculate": "1/(1+0.0056*(datum.year-1985))", "as": "s"}, {"calculate": "1+(1-datum.s)*18.29+(datum.dist-1)*datum.s", "as": "u"}, {"calculate": "80+(1-datum.s)*70.61+(datum.pai-80)*datum.s", "as": "v"}],
             "mark": {"type": "text", "align": "left", "baseline": "middle", "dx": 7, "fontSize": 14, "fontWeight": "bold", "font": "Liberation Serif", "color": "black"},
             "encoding": {"text": {"field": "year", "type": "nominal"}}},
            {"data": {"values": [{"label": "Year"}]}, "transform": [{"calculate": "10", "as": "dist"}, {"calculate": "2002.5", "as": "year"}, {"calculate": "80", "as": "pai"}, {"calculate": "1/(1+0.0056*(datum.year-1985))", "as": "s"}, {"calculate": "1+(1-datum.s)*18.29+(datum.dist-1)*datum.s", "as": "u"}, {"calculate": "80+(1-datum.s)*70.61+(datum.pai-80)*datum.s", "as": "v"}],
             "mark": {"type": "text", "angle": 275, "dy": 43, "align": "center", "baseline": "middle", "fontSize": 15, "fontWeight": "bold", "font": "Liberation Serif", "color": "black"},
             "encoding": {"text": {"field": "label", "type": "nominal"}}}
          ]
        },
        {
          "width": 270, "height": 188.4,
          "title": {"text": "Grass", "dx": 41.6, "dy": 5},
          "encoding": {
            "x": {"field": "u", "type": "quantitative", "scale": {"domain": [1, 11.672], "nice": false, "zero": false}, "axis": {"values": [2, 4, 6, 8, 10], "title": "Buffer diatance(Km)", "titleX": 113.9}},
            "y": {"field": "v", "type": "quantitative", "scale": {"domain": [70, 119.58], "nice": false, "zero": false}, "axis": {"values": [70, 80, 90, 100], "title": null}}
          },
          "layer": [
            {"data": {"name": "box"}, "transform": [{"filter": "datum.part=='floor'"}, {"calculate": "70+datum.lv*30", "as": "pai"}, {"calculate": "1/(1+0.0056*(datum.year-1985))", "as": "s"}, {"calculate": "1+(1-datum.s)*18.29+(datum.dist-1)*datum.s", "as": "u"}, {"calculate": "70+(1-datum.s)*140.85+(datum.pai-70)*datum.s", "as": "v"}],
             "mark": {"type": "line", "interpolate": "linear-closed", "fill": "#ededed", "stroke": "#9a9a9a", "strokeWidth": 0.8}, "encoding": {"order": {"field": "k", "type": "quantitative"}}},
            {"data": {"name": "box"}, "transform": [{"filter": "datum.part=='side'"}, {"calculate": "70+datum.lv*30", "as": "pai"}, {"calculate": "1/(1+0.0056*(datum.year-1985))", "as": "s"}, {"calculate": "1+(1-datum.s)*18.29+(datum.dist-1)*datum.s", "as": "u"}, {"calculate": "70+(1-datum.s)*140.85+(datum.pai-70)*datum.s", "as": "v"}],
             "mark": {"type": "line", "interpolate": "linear-closed", "fill": "#dff5f7", "stroke": "#9a9a9a", "strokeWidth": 0.8}, "encoding": {"order": {"field": "k", "type": "quantitative"}}},
            {"data": {"name": "box"}, "transform": [{"filter": "datum.part=='back'"}, {"calculate": "70+datum.lv*30", "as": "pai"}, {"calculate": "1/(1+0.0056*(datum.year-1985))", "as": "s"}, {"calculate": "1+(1-datum.s)*18.29+(datum.dist-1)*datum.s", "as": "u"}, {"calculate": "70+(1-datum.s)*140.85+(datum.pai-70)*datum.s", "as": "v"}],
             "mark": {"type": "line", "interpolate": "linear-closed", "fill": "#fdfddf", "stroke": "#9a9a9a", "strokeWidth": 0.8}, "encoding": {"order": {"field": "k", "type": "quantitative"}}},
            {"data": {"name": "grid"}, "transform": [{"filter": "datum.panel=='all'||datum.panel=='Grass'"}, {"calculate": "70+datum.lv*30", "as": "pai"}, {"calculate": "70+datum.lv2*30", "as": "pai2"}, {"calculate": "1/(1+0.0056*(datum.year-1985))", "as": "s"}, {"calculate": "1+(1-datum.s)*18.29+(datum.dist-1)*datum.s", "as": "u"}, {"calculate": "70+(1-datum.s)*140.85+(datum.pai-70)*datum.s", "as": "v"}, {"calculate": "1/(1+0.0056*(datum.year2-1985))", "as": "s2"}, {"calculate": "1+(1-datum.s2)*18.29+(datum.dist2-1)*datum.s2", "as": "u2"}, {"calculate": "70+(1-datum.s2)*140.85+(datum.pai2-70)*datum.s2", "as": "v2"}],
             "mark": {"type": "rule", "stroke": "#c6c6c6", "strokeWidth": 0.7}, "encoding": {"x2": {"field": "u2"}, "y2": {"field": "v2"}}},
            {"data": {"name": "pai"}, "transform": [{"filter": "datum.panel=='Grass'"}, {"calculate": "1/(1+0.0056*(datum.year-1985))", "as": "s"}, {"calculate": "1+(1-datum.s)*18.29+(datum.dist-1)*datum.s", "as": "u"}, {"calculate": "70+(1-datum.s)*140.85+(datum.pai-70)*datum.s", "as": "v"}],
             "mark": {"type": "line"},
             "encoding": {
               "color": {"field": "year", "type": "ordinal", "scale": {"domain": [1985, 1990, 1995, 2000, 2005, 2010, 2015, 2020], "range": ["#00ffff", "#0000ff", "#00ff00", "#c000c0", "#ffff00", "#ff0000", "#ff00ff", "#00ffff"]}, "legend": null},
               "size": {"field": "year", "type": "ordinal", "scale": {"domain": [1985, 1990, 1995, 2000, 2005, 2010, 2015, 2020], "range": [2.4, 1.9, 2.1, 1.6, 1.5, 1.5, 1.3, 1.1]}, "legend": null}
             }},
            {"data": {"name": "pai"}, "transform": [{"filter": "datum.panel=='Grass'"}, {"calculate": "1/(1+0.0056*(datum.year-1985))", "as": "s"}, {"calculate": "1+(1-datum.s)*18.29+(datum.dist-1)*datum.s", "as": "u"}, {"calculate": "70+(1-datum.s)*140.85+(datum.pai-70)*datum.s", "as": "v"}],
             "mark": {"type": "point", "filled": true, "size": 10, "opacity": 1},
             "encoding": {"color": {"field": "year", "type": "ordinal", "scale": {"domain": [1985, 1990, 1995, 2000, 2005, 2010, 2015, 2020], "range": ["#00ffff", "#0000ff", "#00ff00", "#c000c0", "#ffff00", "#ff0000", "#ff00ff", "#00ffff"]}, "legend": null}}},
            {"data": {"name": "years"}, "transform": [{"calculate": "10", "as": "dist"}, {"calculate": "70", "as": "pai"}, {"calculate": "1/(1+0.0056*(datum.year-1985))", "as": "s"}, {"calculate": "1+(1-datum.s)*18.29+(datum.dist-1)*datum.s", "as": "u"}, {"calculate": "70+(1-datum.s)*140.85+(datum.pai-70)*datum.s", "as": "v"}],
             "mark": {"type": "point", "shape": "M0,0L1,0.2", "size": 49, "filled": false, "stroke": "#333333", "strokeWidth": 1, "opacity": 1}, "encoding": {}},
            {"data": {"name": "years"}, "transform": [{"calculate": "10", "as": "dist"}, {"calculate": "70", "as": "pai"}, {"calculate": "1/(1+0.0056*(datum.year-1985))", "as": "s"}, {"calculate": "1+(1-datum.s)*18.29+(datum.dist-1)*datum.s", "as": "u"}, {"calculate": "70+(1-datum.s)*140.85+(datum.pai-70)*datum.s", "as": "v"}],
             "mark": {"type": "text", "align": "left", "baseline": "middle", "dx": 7, "fontSize": 14, "fontWeight": "bold", "font": "Liberation Serif", "color": "black"},
             "encoding": {"text": {"field": "year", "type": "nominal"}}},
            {"data": {"values": [{"label": "Year"}]}, "transform": [{"calculate": "10", "as": "dist"}, {"calculate": "2002.5", "as": "year"}, {"calculate": "70", "as": "pai"}, {"calculate": "1/(1+0.0056*(datum.year-1985))", "as": "s"}, {"calculate": "1+(1-datum.s)*18.29+(datum.dist-1)*datum.s", "as": "u"}, {"calculate": "70+(1-datum.s)*140.85+(datum.pai-70)*datum.s", "as": "v"}],
             "mark": {"type": "text", "angle": 275, "dy": 43, "align": "center", "baseline": "middle", "fontSize": 15, "fontWeight": "bold", "font": "Liberation Serif", "color": "black"},
             "encoding": {"text": {"field": "label", "type": "nominal"}}}
          ]
        }
      ]
    },
    {
      "spacing": 30,
      "bounds": "flush",
      "center": true,
      "resolve": {"scale": {"x": "independent", "y": "independent"}},
      "hconcat": [
        {
          "width": 335.1, "height": 201.7,
          "title": {"text": "Wetland", "dx": 22.8, "dy": 9.8},
          "encoding": {
            "x": {"field": "u", "type": "quantitative", "scale": {"domain": [1, 13.645], "nice": false, "zero": false}, "axis": {"values": [2, 4, 6, 8, 10], "title": "Buffer diatance(Km)", "titleX": 119.3}},
            "y": {"field": "v", "type": "quantitative", "scale": {"domain": [60, 127.23], "nice": false, "zero": false}, "axis": {"values": [60, 70, 80, 90, 100], "title": null}}
          },
          "layer": [
            {"data": {"name": "box"}, "transform": [{"filter": "datum.part=='floor'"}, {"calculate": "60+datum.lv*40", "as": "pai"}, {"calculate": "1/(1+0.0056*(datum.year-1985))", "as": "s"}, {"calculate": "1+(1-datum.s)*18.29+(datum.dist-1)*datum.s", "as": "u"}, {"calculate": "60+(1-datum.s)*186.4+(datum.pai-60)*datum.s", "as": "v"}],
             "mark": {"type": "line", "interpolate": "linear-closed", "fill": "#ededed", "stroke": "#9a9a9a", "strokeWidth": 0.8}, "encoding": {"order": {"field": "k", "type": "quantitative"}}},
            {"data": {"name": "box"}, "transform": [{"filter": "datum.part=='side'"}, {"calculate": "60+datum.lv*40", "as": "pai"}, {"calculate": "1/(1+0.0056*(datum.year-1985))", "as": "s"}, {"calculate": "1+(1-datum.s)*18.29+(datum.dist-1)*datum.s", "as": "u"}, {"calculate": "60+(1-datum.s)*186.4+(datum.pai-60)*datum.s", "as": "v"}],
             "mark": {"type": "line", "interpolate": "linear-closed", "fill": "#dff5f7", "stroke": "#9a9a9a", "strokeWidth": 0.8}, "encoding": {"order": {"field": "k", "type": "quantitative"}}},
            {"data": {"name": "box"}, "transform": [{"filter": "datum.part=='back'"}, {"calculate": "60+datum.lv*40", "as": "pai"}, {"calculate": "1/(1+0.0056*(datum.year-1985))", "as": "s"}, {"calculate": "1+(1-datum.s)*18.29+(datum.dist-1)*datum.s", "as": "u"}, {"calculate": "60+(1-datum.s)*186.4+(datum.pai-60)*datum.s", "as": "v"}],
             "mark": {"type": "line", "interpolate": "linear-closed", "fill": "#fdfddf", "stroke": "#9a9a9a", "strokeWidth": 0.8}, "encoding": {"order": {"field": "k", "type": "quantitative"}}},
            {"data": {"name": "grid"}, "transform": [{"filter": "datum.panel=='all'||datum.panel=='Wetland'"}, {"calculate": "60+datum.lv*40", "as": "pai"}, {"calculate": "60+datum.lv2*40", "as": "pai2"}, {"calculate": "1/(1+0.0056*(datum.year-1985))", "as": "s"}, {"calculate": "1+(1-datum.s)*18.29+(datum.dist-1)*datum.s", "as": "u"}, {"calculate": "60+(1-datum.s)*186.4+(datum.pai-60)*datum.s", "as": "v"}, {"calculate": "1/(1+0.0056*(datum.year2-1985))", "as": "s2"}, {"calculate": "1+(1-datum.s2)*18.29+(datum.dist2-1)*datum.s2", "as": "u2"}, {"calculate": "60+(1-datum.s2)*186.4+(datum.pai2-60)*datum.s2", "as": "v2"}],
             "mark": {"type": "rule", "stroke": "#c6c6c6", "strokeWidth": 0.7}, "encoding": {"x2": {"field": "u2"}, "y2": {"field": "v2"}}},
            {"data": {"name": "pai"}, "transform": [{"filter": "datum.panel=='Wetland'"}, {"calculate": "1/(1+0.0056*(datum.year-1985))", "as": "s"}, {"calculate": "1+(1-datum.s)*18.29+(datum.dist-1)*datum.s", "as": "u"}, {"calculate": "60+(1-datum.s)*186.4+(datum.pai-60)*datum.s", "as": "v"}],
             "mark": {"type": "line"},
             "encoding": {
               "color": {"field": "year", "type": "ordinal", "scale": {"domain": [1985, 1990, 1995, 2000, 2005, 2010, 2015, 2020], "range": ["#00ffff", "#0000ff", "#00ff00", "#c000c0", "#ffff00", "#ff0000", "#ff00ff", "#00ffff"]}, "legend": null},
               "size": {"field": "year", "type": "ordinal", "scale": {"domain": [1985, 1990, 1995, 2000, 2005, 2010, 2015, 2020], "range": [2.4, 1.9, 2.1, 1.6, 1.5, 1.5, 1.3, 1.1]}, "legend": null}
             }},
            {"data": {"name": "pai"}, "transform": [{"filter": "datum.panel=='Wetland'"}, {"calculate": "1/(1+0.0056*(datum.year-1985))", "as": "s"}, {"calculate": "1+(1-datum.s)*18.29+(datum.dist-1)*datum.s", "as": "u"}, {"calculate": "60+(1-datum.s)*186.4+(datum.pai-60)*datum.s", "as": "v"}],
             "mark": {"type": "point", "filled": true, "size": 10, "opacity": 1},
             "encoding": {"color": {"field": "year", "type": "ordinal", "scale": {"domain": [1985, 1990, 1995, 2000, 2005, 2010, 2015, 2020], "range": ["#00ffff", "#0000ff", "#00ff00", "#c000c0", "#ffff00", "#ff0000", "#ff00ff", "#00ffff"]}, "legend": null}}},
            {"data": {"name": "years"}, "transform": [{"calculate": "10", "as": "dist"}, {"calculate": "60", "as": "pai"}, {"calculate": "1/(1+0.0056*(datum.year-1985))", "as": "s"}, {"calculate": "1+(1-datum.s)*18.29+(datum.dist-1)*datum.s", "as": "u"}, {"calculate": "60+(1-datum.s)*186.4+(datum.pai-60)*datum.s", "as": "v"}],
             "mark": {"type": "point", "shape": "M0,0L1,0.2", "size": 49, "filled": false, "stroke": "#333333", "strokeWidth": 1, "opacity": 1}, "encoding": {}},
            {"data": {"name": "years"}, "transform": [{"calculate": "10", "as": "dist"}, {"calculate": "60", "as": "pai"}, {"calculate": "1/(1+0.0056*(datum.year-1985))", "as": "s"}, {"calculate": "1+(1-datum.s)*18.29+(datum.dist-1)*datum.s", "as": "u"}, {"calculate": "60+(1-datum.s)*186.4+(datum.pai-60)*datum.s", "as": "v"}],
             "mark": {"type": "text", "align": "left", "baseline": "middle", "dx": 7, "fontSize": 14, "fontWeight": "bold", "font": "Liberation Serif", "color": "black"},
             "encoding": {"text": {"field": "year", "type": "nominal"}}},
            {"data": {"values": [{"label": "Year"}]}, "transform": [{"calculate": "10", "as": "dist"}, {"calculate": "2002.5", "as": "year"}, {"calculate": "60", "as": "pai"}, {"calculate": "1/(1+0.0056*(datum.year-1985))", "as": "s"}, {"calculate": "1+(1-datum.s)*18.29+(datum.dist-1)*datum.s", "as": "u"}, {"calculate": "60+(1-datum.s)*186.4+(datum.pai-60)*datum.s", "as": "v"}],
             "mark": {"type": "text", "angle": 275, "dy": 43, "align": "center", "baseline": "middle", "fontSize": 15, "fontWeight": "bold", "font": "Liberation Serif", "color": "black"},
             "encoding": {"text": {"field": "label", "type": "nominal"}}}
          ]
        },
        {
          "width": 408, "height": 193.7,
          "title": {"text": "Construction land", "dx": -4.6, "dy": 5.9},
          "encoding": {
            "x": {"field": "u", "type": "quantitative", "scale": {"domain": [1, 16.692], "nice": false, "zero": false}, "axis": {"values": [2, 4, 6, 8, 10], "title": "Buffer diatance(Km)", "titleX": 117}},
            "y": {"field": "v", "type": "quantitative", "scale": {"domain": [60, 125.88], "nice": false, "zero": false}, "axis": {"values": [60, 70, 80, 90, 100], "title": null}}
          },
          "layer": [
            {"data": {"name": "box"}, "transform": [{"filter": "datum.part=='floor'"}, {"calculate": "60+datum.lv*40", "as": "pai"}, {"calculate": "1/(1+0.0056*(datum.year-1985))", "as": "s"}, {"calculate": "1+(1-datum.s)*18.29+(datum.dist-1)*datum.s", "as": "u"}, {"calculate": "60+(1-datum.s)*190.2+(datum.pai-60)*datum.s", "as": "v"}],
             "mark": {"type": "line", "interpolate": "linear-closed", "fill": "#ededed", "stroke": "#9a9a9a", "strokeWidth": 0.8}, "encoding": {"order": {"field": "k", "type": "quantitative"}}},
            {"data": {"name": "box"}, "transform": [{"filter": "datum.part=='side'"}, {"calculate": "60+datum.lv*40", "as": "pai"}, {"calculate": "1/(1+0.0056*(datum.year-1985))", "as": "s"}, {"calculate": "1+(1-datum.s)*18.29+(datum.dist-1)*datum.s", "as": "u"}, {"calculate": "60+(1-datum.s)*190.2+(datum.pai-60)*datum.s", "as": "v"}],
             "mark": {"type": "line", "interpolate": "linear-closed", "fill": "#dff5f7", "stroke": "#9a9a9a", "strokeWidth": 0.8}, "encoding": {"order": {"field": "k", "type": "quantitative"}}},
            {"data": {"name": "box"}, "transform": [{"filter": "datum.part=='back'"}, {"calculate": "60+datum.lv*40", "as": "pai"}, {"calculate": "1/(1+0.0056*(datum.year-1985))", "as": "s"}, {"calculate": "1+(1-datum.s)*18.29+(datum.dist-1)*datum.s", "as": "u"}, {"calculate": "60+(1-datum.s)*190.2+(datum.pai-60)*datum.s", "as": "v"}],
             "mark": {"type": "line", "interpolate": "linear-closed", "fill": "#fdfddf", "stroke": "#9a9a9a", "strokeWidth": 0.8}, "encoding": {"order": {"field": "k", "type": "quantitative"}}},
            {"data": {"name": "grid"}, "transform": [{"filter": "datum.panel=='all'||datum.panel=='Construction land'"}, {"calculate": "60+datum.lv*40", "as": "pai"}, {"calculate": "60+datum.lv2*40", "as": "pai2"}, {"calculate": "1/(1+0.0056*(datum.year-1985))", "as": "s"}, {"calculate": "1+(1-datum.s)*18.29+(datum.dist-1)*datum.s", "as": "u"}, {"calculate": "60+(1-datum.s)*190.2+(datum.pai-60)*datum.s", "as": "v"}, {"calculate": "1/(1+0.0056*(datum.year2-1985))", "as": "s2"}, {"calculate": "1+(1-datum.s2)*18.29+(datum.dist2-1)*datum.s2", "as": "u2"}, {"calculate": "60+(1-datum.s2)*190.2+(datum.pai2-60)*datum.s2", "as": "v2"}],
             "mark": {"type": "rule", "stroke": "#c6c6c6", "strokeWidth": 0.7}, "encoding": {"x2": {"field": "u2"}, "y2": {"field": "v2"}}},
            {"data": {"name": "pai"}, "transform": [{"filter": "datum.panel=='Construction land'"}, {"calculate": "1/(1+0.0056*(datum.year-1985))", "as": "s"}, {"calculate": "1+(1-datum.s)*18.29+(datum.dist-1)*datum.s", "as": "u"}, {"calculate": "60+(1-datum.s)*190.2+(datum.pai-60)*datum.s", "as": "v"}],
             "mark": {"type": "line"},
             "encoding": {
               "color": {"field": "year", "type": "ordinal", "scale": {"domain": [1985, 1990, 1995, 2000, 2005, 2010, 2015, 2020], "range": ["#00ffff", "#0000ff", "#00ff00", "#c000c0", "#ffff00", "#ff0000", "#ff00ff", "#00ffff"]}, "legend": null},
               "size": {"field": "year", "type": "ordinal", "scale": {"domain": [1985, 1990, 1995, 2000, 2005, 2010, 2015, 2020], "range": [2.4, 1.9, 2.1, 1.6, 1.5, 1.5, 1.3, 1.1]}, "legend": null}
             }},
            {"data": {"name": "pai"}, "transform": [{"filter": "datum.panel=='Construction land'"}, {"calculate": "1/(1+0.0056*(datum.year-1985))", "as": "s"}, {"calculate": "1+(1-datum.s)*18.29+(datum.dist-1)*datum.s", "as": "u"}, {"calculate": "60+(1-datum.s)*190.2+(datum.pai-60)*datum.s", "as": "v"}],
             "mark": {"type": "point", "filled": true, "size": 10, "opacity": 1},
             "encoding": {"color": {"field": "year", "type": "ordinal", "scale": {"domain": [1985, 1990, 1995, 2000, 2005, 2010, 2015, 2020], "range": ["#00ffff", "#0000ff", "#00ff00", "#c000c0", "#ffff00", "#ff0000", "#ff00ff", "#00ffff"]}, "legend": null}}},
            {"data": {"name": "years"}, "transform": [{"calculate": "10", "as": "dist"}, {"calculate": "60", "as": "pai"}, {"calculate": "1/(1+0.0056*(datum.year-1985))", "as": "s"}, {"calculate": "1+(1-datum.s)*18.29+(datum.dist-1)*datum.s", "as": "u"}, {"calculate": "60+(1-datum.s)*190.2+(datum.pai-60)*datum.s", "as": "v"}],
             "mark": {"type": "point", "shape": "M0,0L1,0.2", "size": 49, "filled": false, "stroke": "#333333", "strokeWidth": 1, "opacity": 1}, "encoding": {}},
            {"data": {"name": "years"}, "transform": [{"calculate": "10", "as": "dist"}, {"calculate": "60", "as": "pai"}, {"calculate": "1/(1+0.0056*(datum.year-1985))", "as": "s"}, {"calculate": "1+(1-datum.s)*18.29+(datum.dist-1)*datum.s", "as": "u"}, {"calculate": "60+(1-datum.s)*190.2+(datum.pai-60)*datum.s", "as": "v"}],
             "mark": {"type": "text", "align": "left", "baseline": "middle", "dx": 7, "fontSize": 14, "fontWeight": "bold", "font": "Liberation Serif", "color": "black"},
             "encoding": {"text": {"field": "year", "type": "nominal"}}},
            {"data": {"values": [{"label": "Year"}]}, "transform": [{"calculate": "10", "as": "dist"}, {"calculate": "2002.5", "as": "year"}, {"calculate": "60", "as": "pai"}, {"calculate": "1/(1+0.0056*(datum.year-1985))", "as": "s"}, {"calculate": "1+(1-datum.s)*18.29+(datum.dist-1)*datum.s", "as": "u"}, {"calculate": "60+(1-datum.s)*190.2+(datum.pai-60)*datum.s", "as": "v"}],
             "mark": {"type": "text", "angle": 275, "dy": 40, "align": "center", "baseline": "middle", "fontSize": 15, "fontWeight": "bold", "font": "Liberation Serif", "color": "black"},
             "encoding": {"text": {"field": "label", "type": "nominal"}}}
          ]
        },
        {
          "width": 75.7, "height": 146,
          "view": {"stroke": "#a0a0a0", "strokeWidth": 1},
          "data": {"name": "years"},
          "encoding": {"y": {"field": "year", "type": "ordinal", "scale": {"type": "point", "padding": 0.55}, "axis": null}},
          "layer": [
            {"mark": {"type": "rule", "strokeWidth": 2},
             "encoding": {"x": {"datum": 0.1, "type": "quantitative", "scale": {"domain": [0, 1], "nice": false, "zero": false}, "axis": null}, "x2": {"datum": 0.55},
               "color": {"field": "year", "type": "ordinal", "scale": {"domain": [1985, 1990, 1995, 2000, 2005, 2010, 2015, 2020], "range": ["#00ffff", "#0000ff", "#00ff00", "#c000c0", "#ffff00", "#ff0000", "#ff00ff", "#00ffff"]}, "legend": null}}},
            {"mark": {"type": "point", "filled": true, "size": 30, "opacity": 1},
             "encoding": {"x": {"datum": 0.32, "type": "quantitative"},
               "color": {"field": "year", "type": "ordinal", "scale": {"domain": [1985, 1990, 1995, 2000, 2005, 2010, 2015, 2020], "range": ["#00ffff", "#0000ff", "#00ff00", "#c000c0", "#ffff00", "#ff0000", "#ff00ff", "#00ffff"]}, "legend": null}}},
            {"mark": {"type": "text", "align": "left", "baseline": "middle", "fontSize": 14.5, "font": "Liberation Serif", "color": "black"},
             "encoding": {"x": {"datum": 0.6, "type": "quantitative"}, "text": {"field": "year", "type": "nominal"}}}
          ]
        }
      ]
    }
  ]
}
